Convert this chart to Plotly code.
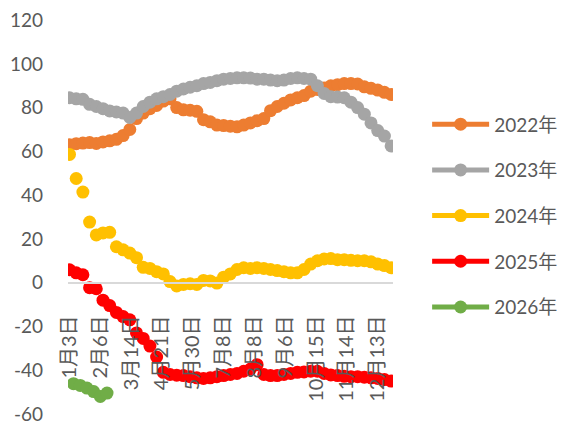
import plotly.graph_objects as go

# Category axis: trading-day index, labelled every 23 trading days
TICK_DAYS = [0, 23, 46, 69, 92, 115, 138, 161, 184, 207, 230]
TICK_TEXT = ["1月3日", "2月6日", "3月14日", "4月21日", "5月30日", "7月8日",
             "8月8日", "9月6日", "10月15日", "11月14日", "12月13日"]

# Value axis ticks
Y_TICKS = [-60, -40, -20, 0, 20, 40, 60, 80, 100, 120]
Y_TICK_TEXT = ["-60", "-40", "-20", "0", "20", "40", "60", "80", "100", "120"]

# Weekly observation days (trading-day index)
WEEK_DAYS = [0, 5, 10, 15, 20, 25, 30, 35, 40, 45, 50, 55, 60, 65, 70, 75, 80,
             85, 90, 95, 100, 105, 110, 115, 120, 125, 130, 135, 140, 145, 150,
             155, 160, 165, 170, 175, 180, 185, 190, 195, 200, 205, 210, 215,
             220, 225, 230, 235, 240]
DAYS_2026 = [3, 8, 13, 18, 23, 28]

Y_2022 = [63, 63.5, 63.8, 64, 63.6, 64.3, 64.8, 65.5, 67.2, 70, 75, 77.5, 79.5,
          81, 83, 84, 80, 79, 78.8, 78.3, 74.5, 73.5, 72, 71.8, 71.5, 71.2, 72,
          73, 74, 75, 78.6, 80.5, 82, 83.5, 84.5, 85.5, 87.5, 88.3, 89, 90,
          90.5, 91, 91, 90.8, 89.5, 88.8, 88, 87, 86]
Y_2023 = [84.5, 84, 83.8, 81.5, 80.5, 79.5, 78.5, 78, 77.5, 75.5, 77.5, 80.5,
          82.5, 84, 85, 86, 87.5, 88.5, 89.3, 90, 91, 91.5, 92.3, 93, 93.3,
          93.6, 93.6, 93.5, 93, 93, 92.6, 92.3, 92.6, 93.3, 93.6, 93.3, 93, 90,
          86.5, 85, 84.8, 84.5, 82.5, 80, 77, 73, 69.5, 67, 62.5]
Y_2024 = [58.6, 47.6, 41.4, 27.7, 21.8, 22.7, 23, 16.4, 15, 13.5, 11.4, 7, 6.5,
          5, 4, 0.5, -1.5, -0.8, -0.5, -0.8, 1, 0.8, -0.2, 2.5, 4, 6, 6.8, 6.5,
          6.8, 6.5, 6, 5.5, 5, 4.5, 4.5, 6, 8.5, 10, 10.8, 11, 10.5, 10.5, 10.2,
          10, 10, 9.5, 8.5, 7.8, 6.8]
Y_2025 = [5.9, 4.5, 3.6, -2.3, -2.8, -8, -10.5, -13.6, -15.5, -17, -23, -25.5,
          -29, -34, -41, -42, -42.3, -42.5, -43, -43.5, -43.8, -43.5, -43,
          -42.5, -42, -41.5, -40.5, -39.5, -37.5, -42, -42.5, -42.5, -42, -41.5,
          -41, -40.8, -40.5, -40.5, -41.5, -42.2, -42.5, -42.8, -43, -43, -43.2,
          -43.5, -43.8, -44.3, -45]
Y_2026 = [-46.2, -47, -48.2, -49.8, -52, -50.5]

SERIES = [
    ("2022年", WEEK_DAYS, Y_2022, "#ED7D31"),
    ("2023年", WEEK_DAYS, Y_2023, "#A5A5A5"),
    ("2024年", WEEK_DAYS, Y_2024, "#FFC000"),
    ("2025年", WEEK_DAYS, Y_2025, "#FF0000"),
    ("2026年", DAYS_2026, Y_2026, "#70AD47"),
]

FONT = "Lato, 'Noto Sans CJK SC', sans-serif"
TEXT_COLOR = "#595959"
Y_MIN, Y_MAX = -60.5, 120.5


def unconnected(xs, ys):
    """Markers only on the plot, but keep the line style for the legend."""
    gx, gy = [], []
    for x, y in zip(xs, ys):
        gx += [x, None]
        gy += [y, None]
    return gx, gy


fig = go.Figure()
for name, xs, ys, color in SERIES:
    gx, gy = unconnected(xs, ys)
    fig.add_trace(go.Scatter(
        x=gx, y=gy, name=name, mode="lines+markers",
        connectgaps=False, legendgroup=name,
        line=dict(color=color, width=5),
        marker=dict(color=color, size=13),
    ))

fig.update_layout(
    width=566, height=424,
    margin=dict(l=68, r=173, t=19, b=9, autoexpand=False),
    paper_bgcolor="white", plot_bgcolor="white",
    font=dict(family=FONT, size=19, color=TEXT_COLOR),
    showlegend=True,
    legend=dict(x=1.105, y=0.782, xanchor="left", yanchor="top",
                itemwidth=57, tracegroupgap=18,
                font=dict(family=FONT, size=19, color=TEXT_COLOR),
                bgcolor="rgba(0,0,0,0)"),
    xaxis=dict(range=[-1.12, 241.4], tickmode="array", tickvals=TICK_DAYS,
               ticktext=TICK_TEXT, tickangle=-90, showgrid=False,
               zeroline=False, showline=True, linecolor="#D9D9D9",
               linewidth=1.5, ticks="", anchor="free",
               position=(0 - Y_MIN) / (Y_MAX - Y_MIN),
               tickfont=dict(family=FONT, size=20, color=TEXT_COLOR),
               ticklabelstandoff=24, ticklabeloverflow="allow",
               automargin=False),
    yaxis=dict(range=[Y_MIN, Y_MAX], tickmode="array", tickvals=Y_TICKS,
               ticktext=Y_TICK_TEXT, showgrid=False,
               zeroline=False, showline=False, ticks="",
               ticklabelstandoff=24, ticklabeloverflow="allow",
               automargin=False),
)

fig.write_html("out.html")
